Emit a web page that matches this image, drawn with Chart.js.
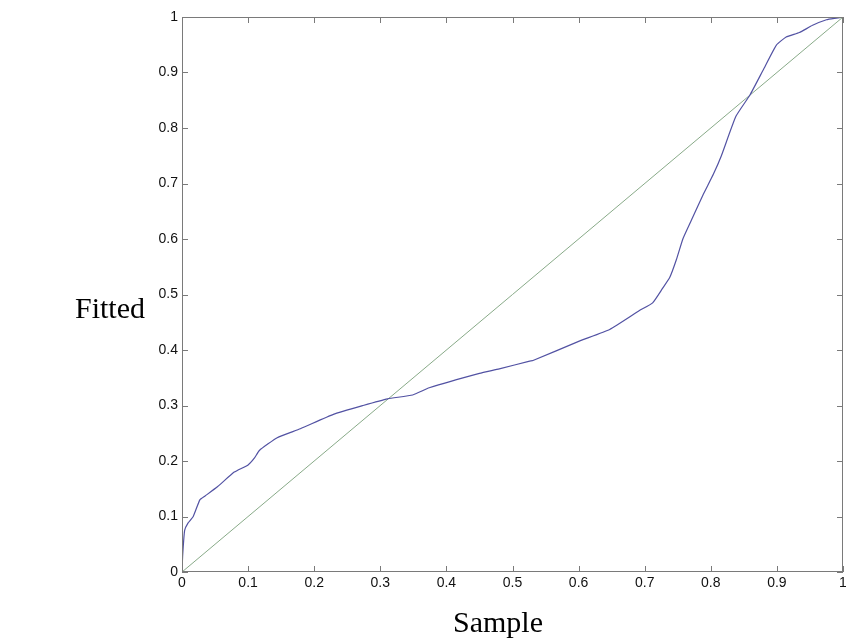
<!DOCTYPE html>
<html>
<head>
<meta charset="utf-8">
<script src="https://cdn.jsdelivr.net/npm/chart.js@4.4.0/dist/chart.umd.min.js"></script>
<style>
  html, body { margin: 0; padding: 0; background: #fff; }
  #wrap { width: 846px; height: 641px; }
</style>
</head>
<body>
<div id="wrap"><canvas id="qqChart" width="846" height="641"></canvas></div>
<script>
// Sample quantiles (x) against fitted quantiles (y)
var sampleX = [0, 0.001, 0.004, 0.009, 0.017, 0.027, 0.035, 0.054, 0.079, 0.1, 0.11, 0.117, 0.144,
               0.179, 0.229, 0.274, 0.311, 0.349, 0.374, 0.45, 0.48, 0.526, 0.531, 0.601, 0.647,
               0.692, 0.712, 0.727, 0.738, 0.748, 0.758, 0.773, 0.788, 0.804, 0.816, 0.838, 0.859,
               0.879, 0.899, 0.914, 0.934, 0.954, 0.975, 0.99, 1.0];
var fittedY = [0, 0.03, 0.075, 0.088, 0.10, 0.13, 0.137, 0.154, 0.18, 0.193, 0.206, 0.219, 0.242,
               0.258, 0.284, 0.30, 0.312, 0.319, 0.332, 0.358, 0.366, 0.38, 0.381, 0.416, 0.437,
               0.471, 0.485, 0.511, 0.531, 0.563, 0.601, 0.640, 0.679, 0.717, 0.750, 0.821, 0.859,
               0.904, 0.949, 0.964, 0.972, 0.985, 0.995, 0.998, 1.0];
// reference line y = x
var refX = [0, 1];
var refY = [0, 1];
var tickValues = [0, 0.1, 0.2, 0.3, 0.4, 0.5, 0.6, 0.7, 0.8, 0.9, 1];

var xLabel = 'Sample';
var yLabel = 'Fitted';

function toPoints(xs, ys) {
    return xs.map(function(x, i) { return { x: x, y: ys[i] }; });
}

function fmtTick(v) {
    return String(Math.round(v * 10) / 10);
}

// MATLAB style box: frame plus inward ticks on all four sides, and the axis labels
var boxPlugin = {
    id: 'matlabBox',
    afterDraw: function(chart) {
        var ctx = chart.ctx;
        var area = chart.chartArea;
        var xs = chart.scales.x, ys = chart.scales.y;
        ctx.save();
        ctx.strokeStyle = '#7a7a7a';
        ctx.lineWidth = 1;
        ctx.strokeRect(area.left + 0.5, area.top + 0.5, area.right - area.left - 1, area.bottom - area.top - 1);
        ctx.beginPath();
        tickValues.forEach(function(v) {
            var px = Math.round(xs.getPixelForValue(v)) + 0.5;
            ctx.moveTo(px, area.bottom); ctx.lineTo(px, area.bottom - 6);
            ctx.moveTo(px, area.top); ctx.lineTo(px, area.top + 6);
            var py = Math.round(ys.getPixelForValue(v)) + 0.5;
            ctx.moveTo(area.left, py); ctx.lineTo(area.left + 6, py);
            ctx.moveTo(area.right, py); ctx.lineTo(area.right - 6, py);
        });
        ctx.stroke();

        ctx.fillStyle = '#000';
        ctx.font = '30px "Liberation Serif", "Times New Roman", serif';
        ctx.textBaseline = 'middle';
        ctx.textAlign = 'center';
        ctx.fillText(xLabel, 498, 624);
        ctx.textAlign = 'left';
        ctx.fillText(yLabel, 75, 310);
        ctx.restore();
    }
};

var tickFont = { family: '"Liberation Sans", Arial, sans-serif', size: 14 };

var ctx = document.getElementById('qqChart').getContext('2d');
var qqChart = new Chart(ctx, {
    type: 'scatter',
    data: {
        datasets: [{
            label: 'Q-Q',
            data: toPoints(sampleX, fittedY),
            showLine: true,
            borderColor: '#5252a3',
            borderWidth: 1.2,
            pointRadius: 0,
            tension: 0.15
        }, {
            label: 'y = x',
            data: toPoints(refX, refY),
            showLine: true,
            borderColor: '#88aa88',
            borderWidth: 1,
            pointRadius: 0
        }]
    },
    options: {
        responsive: false,
        animation: false,
        layout: { padding: { top: 17, right: 3, left: 0, bottom: 0 } },
        plugins: {
            legend: { display: false },
            tooltip: { enabled: false }
        },
        scales: {
            x: {
                type: 'linear',
                min: 0,
                max: 1,
                grid: { display: false, drawTicks: false },
                border: { display: false },
                ticks: {
                    stepSize: 0.1,
                    padding: 3,
                    color: '#111',
                    font: tickFont,
                    maxRotation: 0,
                    callback: fmtTick
                },
                afterFit: function(scale) {
                    scale.height = 69;
                    scale.paddingLeft = 0;
                    scale.paddingRight = 0;
                }
            },
            y: {
                type: 'linear',
                min: 0,
                max: 1,
                grid: { display: false, drawTicks: false },
                border: { display: false },
                ticks: {
                    stepSize: 0.1,
                    padding: 4,
                    color: '#111',
                    font: tickFont,
                    callback: fmtTick
                },
                afterFit: function(scale) {
                    scale.width = 182;
                    scale.paddingTop = 0;
                    scale.paddingBottom = 0;
                }
            }
        }
    },
    plugins: [boxPlugin]
});
</script>
</body>
</html>
